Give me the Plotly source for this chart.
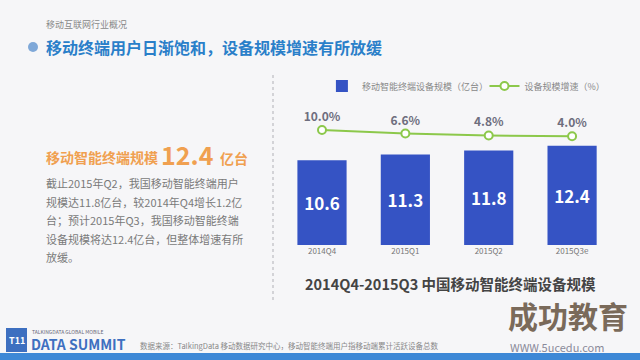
import plotly.graph_objects as go

categories = ["2014Q4", "2015Q1", "2015Q2", "2015Q3e"]
device_scale = [10.6, 11.3, 11.8, 12.4]
growth_rate = [10.0, 6.6, 4.8, 4.0]
growth_labels = ["10.0%", "6.6%", "4.8%", "4.0%"]

FONT = "Noto Sans CJK SC"
BLUE = "#3553c4"
GREEN = "#8cc84b"

fig = go.Figure()
fig.add_trace(go.Bar(
    x=categories, y=device_scale, name="移动智能终端设备规模（亿台）",
    marker=dict(color=BLUE, line=dict(width=0)),
    text=[f"{v:.1f}" for v in device_scale], textposition="inside",
    insidetextanchor="middle",
    textfont=dict(family=FONT, size=17, color="white", weight="bold"),
    yaxis="y", legend="legend",
))
fig.add_trace(go.Scatter(
    x=categories, y=growth_rate, name="设备规模增速（%）",
    mode="lines+markers+text", text=growth_labels, textposition="top center",
    textfont=dict(family=FONT, size=12, color="#6e6e7e", weight="bold"),
    line=dict(color=GREEN, width=2),
    marker=dict(size=8, color="white", line=dict(color=GREEN, width=2)),
    yaxis="y2", cliponaxis=False, legend="legend2",
))

legend_style = dict(orientation="h", y=0.761, xanchor="left", yanchor="middle",
                    font=dict(size=9, color="#888"), bgcolor="rgba(0,0,0,0)",
                    itemwidth=30)

fig.update_layout(
    width=640, height=360, margin=dict(l=0, r=0, t=0, b=0),
    paper_bgcolor="#f6f6f8", plot_bgcolor="rgba(0,0,0,0)",
    bargap=0.41, showlegend=True,
    font=dict(family=FONT, color="#777"),
    xaxis=dict(domain=[0.438, 0.959], showgrid=False, zeroline=False, showline=False,
               tickfont=dict(size=8, color="#777"), ticks=""),
    yaxis=dict(domain=[0.3194, 0.7639], range=[0, 20], visible=False),
    yaxis2=dict(domain=[0.3194, 0.7639], range=[-99.5, 52.86], overlaying="y", visible=False),
    legend=dict(x=0.503, **legend_style),
    legend2=dict(x=0.757, **legend_style),
)

shapes = [
    dict(type="line", xref="paper", yref="paper", x0=273/640, x1=273/640,
         y0=1-75/360, y1=1-300/360, line=dict(color="#c8c8cc", width=1.5, dash="dot")),
    dict(type="circle", xref="paper", yref="paper", x0=28/640, x1=38/640,
         y0=1-52/360, y1=1-42/360, fillcolor="#7fa8d8", line=dict(width=0)),
    dict(type="rect", xref="paper", yref="paper", x0=0, x1=1, y0=0, y1=7/360,
         fillcolor="#3d88d6", line=dict(width=0)),
    dict(type="rect", xref="paper", yref="paper", x0=6/640, x1=27/640,
         y0=1-352/360, y1=1-328/360, fillcolor="#3d6fc0", line=dict(width=0)),
]
fig.update_layout(shapes=shapes)

def ann(text, x, y, size, color, bold=False, xanchor="left", yanchor="middle"):
    fig.add_annotation(text=text, xref="paper", yref="paper", x=x/640, y=1-y/360,
                       xanchor=xanchor, yanchor=yanchor, showarrow=False,
                       font=dict(family=FONT, size=size, color=color,
                                 weight="bold" if bold else "normal"))

ann("移动互联网行业概况", 44, 25, 9, "#888")
ann("移动终端用户日渐饱和，设备规模增速有所放缓", 44, 47, 16, "#2a7fc9", bold=True)
ann("移动智能终端规模", 44, 157, 14, "#f0a050", bold=True)
ann("12.4", 159, 154, 25, "#f0a050", bold=True)
ann("亿台", 218, 158, 14, "#f0a050", bold=True)
para = ["截止2015年Q2，我国移动智能终端用户",
        "规模达11.8亿台，较2014年Q4增长1.2亿",
        "台；预计2015年Q3，我国移动智能终端",
        "设备规模将达12.4亿台，但整体增速有所",
        "放缓。"]
for i, line in enumerate(para):
    ann(line, 44, 183 + i * 18.5, 11, "#7a7a7a")
ann("2014Q4-2015Q3 中国移动智能终端设备规模", 303, 283, 14.5, "#444", bold=True)
ann("数据来源：TalkingData 移动数据研究中心，移动智能终端用户指移动端累计活跃设备总数",
    138, 345, 7.5, "#888")
ann("TALKINGDATA GLOBAL MOBILE", 30, 331, 5, "#667")
ann("DATA SUMMIT", 29, 344, 14, "#3d6fc0", bold=True)
ann("T11", 7, 340, 9, "white", bold=True)
ann("成功教育", 506, 315, 30, "#7a6a5a", bold=True)
ann("WWW.5ucedu.com", 508, 347, 11, "#8a8a9a")

fig.write_html("out.html", config={"displayModeBar": False},
               post_script="document.body.style.margin='0';")
